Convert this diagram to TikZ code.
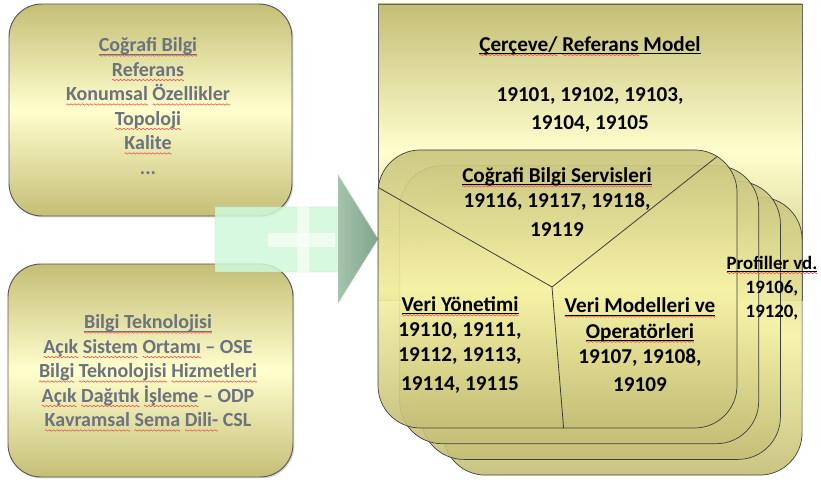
\documentclass[tikz,border=0pt]{standalone}
\usepackage{fontspec}
\setmainfont{Carlito}
\usetikzlibrary{shadows}

\definecolor{olive}{RGB}{196,190,118}
\definecolor{cream}{RGB}{255,255,206}
\definecolor{stacktop}{RGB}{201,196,126}
\definecolor{stackmid}{RGB}{246,242,166}
\definecolor{greytext}{RGB}{108,114,126}
\definecolor{mint}{RGB}{208,248,218}
\definecolor{mintdark}{RGB}{140,188,158}
\definecolor{spellred}{RGB}{236,80,80}

\newsavebox\wavebox
\newsavebox\spellbox
\newsavebox\ulbox
\AtBeginDocument{\sbox\wavebox{\begin{pgfpicture}
	\pgfpathmoveto{\pgfpoint{0pt}{0pt}}
	\pgfpathsine{\pgfpoint{0.8pt}{0.6pt}}
	\pgfpathcosine{\pgfpoint{0.8pt}{-0.6pt}}
	\pgfpathsine{\pgfpoint{0.8pt}{-0.6pt}}
	\pgfpathcosine{\pgfpoint{0.8pt}{0.6pt}}
	\pgfsetlinewidth{0.5pt}
	\pgfsetstrokecolor{spellred}
	\pgfusepath{stroke}
	\pgfresetboundingbox
	\pgfpathrectangle{\pgfpoint{0pt}{-0.6pt}}{\pgfpoint{3.2pt}{1.2pt}}
	\pgfusepath{use as bounding box}
\end{pgfpicture}}}
\newcommand\spell[1]{\sbox\spellbox{#1}\leavevmode\rlap{\raisebox{-3.8pt}{\hbox to\wd\spellbox{\xleaders\copy\wavebox\hfill}}}\usebox\spellbox}
\newcommand\ulbar[1]{\sbox\ulbox{#1}\leavevmode\rlap{\rule[-2.4pt]{\wd\ulbox}{0.9pt}}\usebox\ulbox}
\newcommand\hdline[1]{\spell{\ulbar{#1}}}

\begin{document}
\begin{tikzpicture}[x=0.85pt, y=0.85pt,
	sidebox/.style={draw=black!65, line width=0.8pt, rounded corners=28pt,
		top color=olive, bottom color=olive, middle color=cream,
		drop shadow={shadow xshift=1.2pt, shadow yshift=-1.2pt, opacity=.3}},
	stack/.style={draw=black!75, line width=0.6pt, rounded corners=36pt,
		top color=stacktop, bottom color=olive, middle color=stackmid, fill opacity=.9},
	sidetext/.style={align=center, text=greytext, font=\bfseries\fontsize{17}{20.8}\selectfont},
	maintext/.style={align=center, font=\bfseries\fontsize{18}{21.4}\selectfont}]
	\useasboundingbox (0,0) rectangle (821,483);

	\draw[sidebox] (9,267) rectangle (292,479);
	\draw[sidebox] (8,6) rectangle (293,219);

	\draw[draw=black!60, line width=0.6pt, top color=olive, bottom color=olive, middle color=cream]
		(378,183) rectangle (802,479);

	\fill[mint, fill opacity=.85]
		(215,276) -- (338,276) -- (338,308) -- (378,244) -- (338,180) -- (338,211) -- (215,211) -- cycle;
	\fill[fill opacity=.7, left color=mint, right color=mintdark!75!mint] (338,308) -- (378,244) -- (338,180) -- cycle;
	\draw[mintdark!60, line width=0.4pt]
		(215,276) -- (338,276) -- (338,308) -- (378,244) -- (338,180) -- (338,211) -- (215,211) -- cycle;
	\fill[white, opacity=.6] (268,236) rectangle (335,250);
	\fill[white, opacity=.6] (297,211) rectangle (309,276);

	\foreach \i in {3,2,1,0}{
		\draw[stack] (378+\i*21.7,55-\i*15.7) rectangle (737+\i*21.7,333-\i*15.7);
	}

	\coordinate (mid) at (552,196);
	\begin{scope}
		\clip[rounded corners=36pt] (378,55) rectangle (737,333);
		\draw[black!75, line width=0.7pt] (mid) -- (360,306);
		\draw[black!75, line width=0.7pt] (mid) -- (733,339);
		\draw[black!75, line width=0.7pt] (mid) -- (564,50);
	\end{scope}

	\node[sidetext] (lefttop) at (148,377) {\hdline{Coğrafi Bilgi}\\ \spell{Referans}\\
		\spell{Konumsal} \spell{Özellikler}\\ \spell{Topoloji}\\ \spell{Kalite}\\ ...};
	\node[sidetext] (leftbot) at (148,110) {\hdline{Bilgi Teknolojisi}\\
		\spell{Açık} \spell{Sistem} \spell{Ortamı} -- OSE\\
		\spell{Bilgi} \spell{Teknolojisi} \spell{Hizmetleri}\\
		\spell{Açık} \spell{Dağıtık} \spell{İşleme} -- ODP\\
		\spell{Kavramsal} \spell{Sema} \spell{Dili-} CSL};

	\node[maintext] (rectitle) at (590,437) {\ulbar{\spell{Çerçeve/} \spell{Referans} Model}};
	\node[maintext] (recnum) at (590,373) {19101, 19102, 19103,\\[2pt] 19104, 19105};

	\node[maintext] (servis) at (557,281) {\hdline{Coğrafi Bilgi Servisleri}\\ 19116, 19117, 19118,\\[3pt] 19119};
	\node[maintext] (veriyon) at (460,138) {\hdline{Veri Yönetimi}\\ 19110, 19111,\\ 19112, 19113,\\[3pt] 19114, 19115};
	\node[maintext] (verimod) at (640,138) {\hdline{Veri Modelleri ve}\\ \hdline{Operatörleri}\\ 19107, 19108,\\[3pt] 19109};
	\node[maintext, font=\bfseries\fontsize{16}{20.5}\selectfont] (profil) at (772,195)
		{\hdline{Profiller vd.}\\ 19106,\\ 19120,};
\end{tikzpicture}
\end{document}
